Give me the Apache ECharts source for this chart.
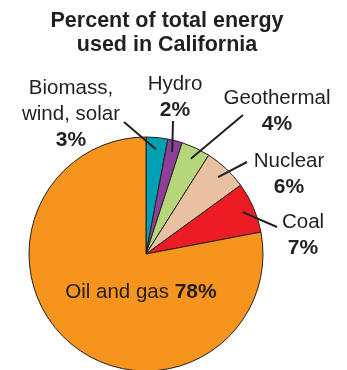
<!DOCTYPE html>
<html>
<head>
<meta charset="utf-8">
<script src="https://cdn.jsdelivr.net/npm/echarts@6/dist/echarts.min.js"></script>
<style>
  html, body { margin: 0; padding: 0; background: #fff; }
  #chart { width: 347px; height: 370px; }
</style>
</head>
<body>
<div id="chart"></div>
<script>
// data
const categories = ['Biomass,\nwind, solar', 'Hydro', 'Geothermal', 'Nuclear', 'Coal', 'Oil and gas']
const percents = [3, 2, 4, 6, 7, 78]

// look
const sliceColors = ['#00a0b4', '#8e3f98', '#b5d779', '#e8c1a0', '#ec1c24', '#f7941d']
const ink = '#231f20'
const CENTER = [146, 254]
const RADIUS = 117
// where each label block sits (centre) and where its leader line stops
const labelSpots = [[71, 114], [175, 97], [277, 111], [289, 174], [303, 235], [141, 292]]
const lineEnds = [[124, 122], [173, 121], [243, 115], [247, 162], [277, 227], null]

const total = percents.reduce((a, b) => a + b, 0)

function midAngle(i) {
  let before = 0
  for (let k = 0; k < i; k++) before += percents[k]
  return (before + percents[i] / 2) / total * Math.PI * 2
}

function labelText(name, value, inline) {
  const lines = name.split('\n').map(s => '{n|' + s + '}')
  if (inline) return lines.join('\n') + '{n| }{v|' + value + '%}'
  return lines.join('\n') + '\n{v|' + value + '%}'
}

const chart = echarts.init(document.getElementById('chart'))

const pieBase = {
  type: 'pie',
  center: CENTER,
  radius: RADIUS,
  startAngle: 90,
  clockwise: true,
  avoidLabelOverlap: false,
  emphasis: { disabled: true },
  silent: true
}

chart.setOption({
  animation: false,
  title: {
    text: 'Percent of total energy\nused in California',
    left: 162,
    top: 4,
    textAlign: 'center',
    textStyle: {
      fontFamily: 'Liberation Sans',
      fontSize: 21.5,
      fontWeight: 'bold',
      lineHeight: 24,
      color: ink
    }
  },
  series: [
    // coloured slices
    Object.assign({}, pieBase, {
      z: 2,
      itemStyle: { borderColor: ink, borderWidth: 1 },
      label: { show: false },
      labelLine: { show: false },
      data: categories.map((name, i) => ({
        name: name,
        value: percents[i],
        itemStyle: { color: sliceColors[i] }
      }))
    }),
    // same slices, see-through, carrying the labels and leader lines on top
    Object.assign({}, pieBase, {
      z: 3,
      itemStyle: { color: 'rgba(0,0,0,0)', borderWidth: 0 },
      label: {
        show: true,
        position: 'outside',
        formatter: p => labelText(p.name, p.value, p.dataIndex === categories.length - 1),
        rich: {
          n: { fontFamily: 'Liberation Sans', fontSize: 20.5, color: ink, lineHeight: 26 },
          v: { fontFamily: 'Liberation Sans', fontSize: 21, fontWeight: 'bold', color: ink, lineHeight: 26 }
        }
      },
      labelLine: {
        show: true,
        showAbove: true,
        lineStyle: { color: ink, width: 2 }
      },
      labelLayout: params => {
        const i = params.dataIndex
        const out = {
          x: labelSpots[i][0],
          y: labelSpots[i][1],
          align: 'center',
          verticalAlign: 'middle'
        }
        if (lineEnds[i]) {
          const a = midAngle(i)
          const r = RADIUS * 0.9
          out.labelLinePoints = [
            [CENTER[0] + r * Math.sin(a), CENTER[1] - r * Math.cos(a)],
            lineEnds[i],
            lineEnds[i]
          ]
        }
        return out
      },
      data: categories.map((name, i) => ({
        name: name,
        value: percents[i],
        labelLine: { show: lineEnds[i] !== null }
      }))
    })
  ]
})
</script>
</body>
</html>
